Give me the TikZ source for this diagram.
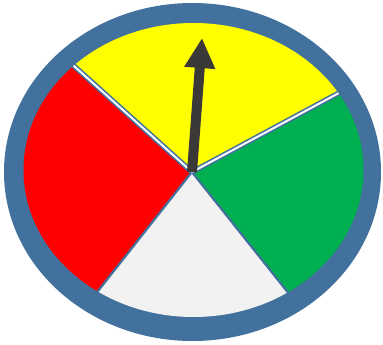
\documentclass[tikz,border=0pt]{standalone}
\usepackage{tikz}
\usetikzlibrary{arrows.meta}
\definecolor{rimblue}{HTML}{41719C}
\definecolor{pointergray}{HTML}{3B3838}
\definecolor{spinyellow}{HTML}{FFFF00}
\definecolor{spingreen}{HTML}{00B050}
\definecolor{spinred}{HTML}{FF0000}
\definecolor{spinwhite}{HTML}{F2F2F2}

\begin{document}
\begin{tikzpicture}[x=1pt,y=-1pt,
    sector/.style={draw=rimblue,line width=2pt},
    gapline/.style={draw=rimblue,line width=1.6pt,double=white,double distance=2pt},
    pointer/.style={draw=pointergray,line width=10pt,
      -{Triangle[length=30pt,width=29pt]}}]
  \useasboundingbox (0,0) rectangle (383,345);
  \coordinate (hub) at (192,172);
  \coordinate (tip) at (202,38);
  \coordinate (nw) at (-44,-40);
  \coordinate (ne) at (482,16);
  \coordinate (sw) at (-2,418);
  \coordinate (se) at (388,418);
  \fill[rimblue] (192.5,172) ellipse [x radius=188.5,y radius=169];
  \begin{scope}
    \clip (193.5,170) ellipse [x radius=170,y radius=147];
    \fill[spinyellow] (hub) -- (nw) -- (-44,-200) -- (482,-200) -- (ne) -- cycle;
    \filldraw[sector,fill=spinred] (hub) -- (nw) -- (-200,-40) -- (-200,418) -- (sw) -- cycle;
    \filldraw[sector,fill=spinwhite] (hub) -- (sw) -- (se) -- cycle;
    \filldraw[sector,fill=spingreen] (hub) -- (se) -- (600,418) -- (600,16) -- (ne) -- cycle;
    \draw[gapline] (hub) -- (nw);
    \draw[gapline] (hub) -- (ne);
  \end{scope}
  \draw[pointer] (hub) -- (tip);
\end{tikzpicture}
\end{document}
